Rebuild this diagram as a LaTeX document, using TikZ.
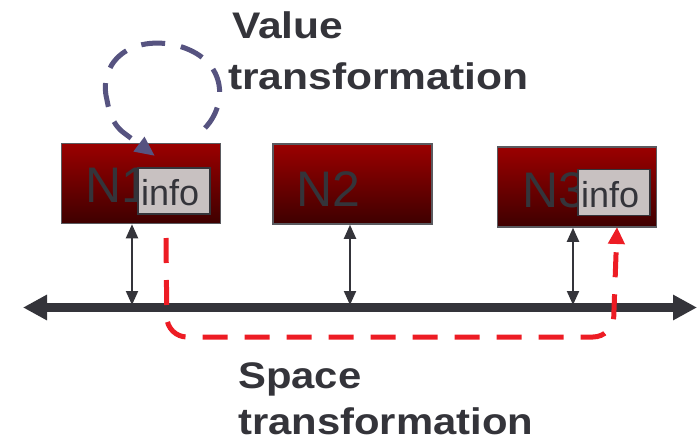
\documentclass[tikz,border=0pt]{standalone}
\usepackage{fontspec}
\setmainfont{Liberation Sans}
\usetikzlibrary{arrows.meta}
\definecolor{inkgray}{RGB}{52,52,58}
\definecolor{boxtop}{RGB}{155,0,0}
\definecolor{boxbot}{RGB}{62,0,0}
\definecolor{boxrim}{RGB}{90,90,95}
\definecolor{infofill}{RGB}{200,193,193}
\definecolor{spacered}{RGB}{237,28,36}
\definecolor{loopblue}{RGB}{86,83,128}
\tikzset{
  nodebox/.style={draw=boxrim, line width=1.5pt, top color=boxtop, bottom color=boxbot,
    minimum width=159pt, minimum height=80pt, inner sep=0pt},
  nlabel/.style={anchor=base west, inner sep=0pt, text=inkgray,
    font=\fontsize{50}{55}\selectfont},
  infobox/.style={draw=inkgray, line width=1.8pt, fill=infofill,
    minimum width=72pt, minimum height=46pt, inner sep=0pt},
  infotext/.style={anchor=base west, inner sep=0pt, text=inkgray,
    font=\fontsize{36}{40}\selectfont},
  title/.style={anchor=base west, inner sep=0pt, text=inkgray,
    font=\bfseries\fontsize{37}{44}\selectfont},
  link/.style={draw=inkgray, line width=2pt,
    {Triangle[length=14pt,width=12pt]}-{Triangle[length=14pt,width=12pt]}},
  bus/.style={draw=inkgray, line width=8.5pt,
    {Triangle[length=24pt,width=24pt]}-{Triangle[length=24pt,width=24pt]}},
  spacepath/.style={draw=spacered, line width=5pt, dash pattern=on 25pt off 17pt,
    rounded corners=20pt, -{Triangle[length=17pt,width=16pt]}},
  valuepath/.style={draw=loopblue, line width=5pt, dash pattern=on 24pt off 16pt,
    -{Triangle[length=20pt,width=17pt]}}
}
\begin{document}
\begin{tikzpicture}[x=1pt,y=-1pt]
\useasboundingbox (0,0) rectangle (700,441);

% shared bus with its three attachment points
\coordinate (busL) at (23,307.5);
\coordinate (busR) at (697,307.5);
\coordinate (a1) at (132,305);
\coordinate (a2) at (350,305);
\coordinate (a3) at (573,305);
\draw[bus] (busL) -- (busR);

% the three nodes
\node[nodebox] (n1) at (141,183.5) {};
\node[nodebox] (n2) at (352.5,184) {};
\node[nodebox] (n3) at (577,187) {};
\node[nlabel] (n1lab) at (85,202) {N1};
\node[nlabel] (n2lab) at (296,206) {N2};
\node[nlabel] (n3lab) at (522,207) {N3};

% info payloads
\node[infobox] (info1) at (174,191) {};
\node[infobox] (info3) at (614,192.5) {};
\node[infotext] (info1t) at (141,205) {info};
\node[infotext] (info3t) at (581,207) {info};

% node-to-bus links
\draw[link] (n1.south -| a1) -- (a1);
\draw[link] (n2.south -| a2) -- (a2);
\draw[link] (n3.south -| a3) -- (a3);

% space transformation: N1 to N3 along the bus
\coordinate (s0) at (166,238);
\coordinate (s1) at (167,337);
\coordinate (s2) at (613,337);
\coordinate (s3) at (617,227);
\draw[spacepath] (s0) -- (s1) -- (s2) -- (s3);

% value transformation: loop back into N1
\coordinate (v0) at (205,128);
\coordinate (v1) at (155,156);
\draw[valuepath] (v0) .. controls (228,104) and (228,58) .. (175,45)
  .. controls (126,35) and (98,66) .. (107,100)
  .. controls (110,118) and (116,127) .. (124,133) -- (v1);

% captions
\node[title] (vt1) at (232,39) {\scalebox{1.15}[1]{Value}};
\node[title] (vt2) at (228,90) {\scalebox{1.15}[1]{transformation}};
\node[title] (st1) at (238,388) {\scalebox{1.13}[1]{Space}};
\node[title] (st2) at (238,434) {\scalebox{1.13}[1]{transformation}};
\end{tikzpicture}
\end{document}
